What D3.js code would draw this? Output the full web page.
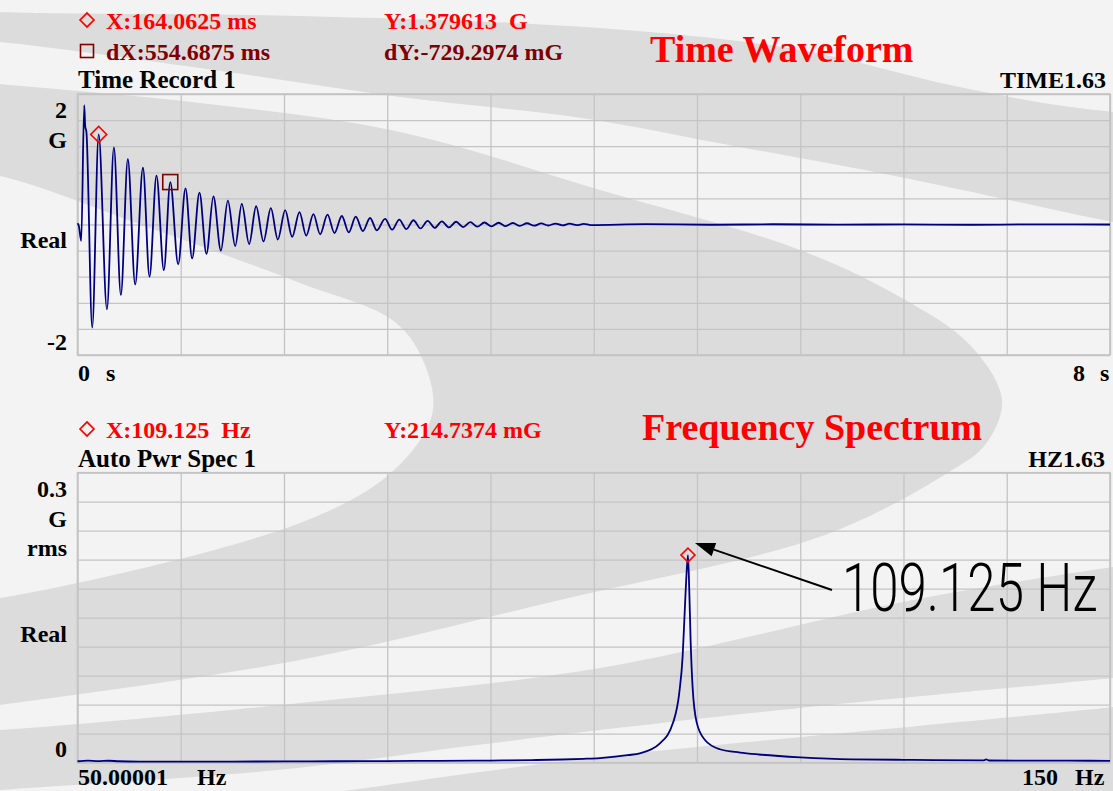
<!DOCTYPE html>
<html>
<head>
<meta charset="utf-8">
<script src="https://cdn.jsdelivr.net/npm/d3@7"></script>
<style>
  html, body { margin: 0; padding: 0; background: #f3f3f3; }
  svg { display: block; }
  text { font-family: "Liberation Serif", "Times New Roman", serif; font-weight: bold; white-space: pre; }
</style>
</head>
<body>
<svg id="chart" width="1113" height="791"></svg>
<script>
// Time record 1: turning points of the ring-down (s, G)
const timeSec = [
  0, 0.010, 0.029, 0.052, 0.060, 0.069, 0.114, 0.164, 0.228, 0.282,
  0.336, 0.390, 0.447, 0.507, 0.558, 0.612, 0.669, 0.719, 0.780, 0.837,
  0.888, 0.945, 0.999, 1.053, 1.111, 1.165, 1.222, 1.273, 1.330, 1.384,
  1.441, 1.498, 1.552, 1.609, 1.663, 1.720, 1.772, 1.828, 1.880, 1.937,
  1.991, 2.048, 2.102, 2.156, 2.211, 2.267, 2.319, 2.383, 2.438, 2.493,
  2.548, 2.603, 2.658, 2.713, 2.768, 2.823, 2.878, 2.933, 2.988, 3.043,
  3.098, 3.153, 3.208, 3.263, 3.318, 3.373, 3.428, 3.483, 3.538, 3.593,
  3.648, 3.703, 3.758, 3.813, 3.868, 3.923, 3.978, 4.4, 4.9, 5.4,
  5.9, 6.4, 6.9, 7.4, 8.0
];
const timeG = [
  0.02, -0.02, -0.25, 1.83, 1.50, 1.42, -1.58, 1.38, -1.30, 1.18,
  -1.08, 1.00, -0.92, 0.87, -0.80, 0.75, -0.70, 0.65, -0.61, 0.555,
  -0.52, 0.49, -0.45, 0.43, -0.40, 0.365, -0.33, 0.315, -0.30, 0.28,
  -0.26, 0.25, -0.23, 0.22, -0.19, 0.19, -0.17, 0.16, -0.15, 0.15,
  -0.13, 0.13, -0.12, 0.12, -0.10, 0.10, -0.09, 0.085, -0.08, 0.075,
  -0.07, 0.065, -0.06, 0.056, -0.052, 0.048, -0.045, 0.042, -0.039, 0.036,
  -0.033, 0.031, -0.029, 0.027, -0.025, 0.023, -0.021, 0.019, -0.018, 0.016,
  -0.015, 0.014, -0.013, 0.012, -0.011, 0.010, -0.009, 0.005, -0.004, 0.004,
  -0.003, 0.003, -0.004, 0.003, 0.0
];

// Auto power spectrum 1 (Hz, G rms)
const specHz = [
  50, 51, 52, 53, 54, 56, 60, 65, 70, 75,
  80, 85, 90, 94, 97, 99, 100.6, 102.1, 103.3, 104.47,
  106.41, 107.70, 108.28, 108.61, 108.83, 108.99, 109.125, 109.25, 109.38, 109.57,
  109.96, 110.77, 112.22, 114.16, 116, 120, 125, 130, 133, 137.8,
  138.0, 138.3, 142, 146, 150
];
const specG = [
  0.0015, 0.0022, 0.0016, 0.0020, 0.0015, 0.0012, 0.0011, 0.0012, 0.0013, 0.0015,
  0.0017, 0.0019, 0.0022, 0.0027, 0.0033, 0.0040, 0.0048, 0.0062, 0.0078, 0.0097,
  0.0200, 0.0420, 0.0720, 0.1100, 0.1610, 0.1960, 0.2147, 0.1790, 0.1270, 0.0790,
  0.0420, 0.0235, 0.0139, 0.0105, 0.0085, 0.0056, 0.0035, 0.0030, 0.0027, 0.0025,
  0.0034, 0.0023, 0.0022, 0.0021, 0.0019
];

// markers
const timeMarker = { t: 0.1640625, g: 1.379613 };
const timeDelta = { dt: 0.5546875, dg: -0.7292974 };
const specMarker = { hz: 109.125, g: 0.2147374 };

// axis text
const timeYLabels = ['2', 'G', 'Real', '-2'];
const specYLabels = ['0.3', 'G', 'rms', 'Real', '0'];
const timeXLabels = ['0', '8'];
const specXLabels = ['50.00001', '150'];

const svg = d3.select('#chart');
const W = 1113, H = 791;

// ---- backdrop swirl ----
const bandColor = '#dcdcdc';
const bands = [
  [[-60,8],[0,12],[300,16],[600,28],[800,50],[950,85],[1050,104],[1113,112],[1170,118],
   [1170,232],[1113,222],[900,177],[718,143],[582,118],[400,97],[200,68],[0,42],[-60,38]],
  [[-60,78],[0,84],[200,103],[400,132],[600,190],[800,250],[900,297],[970,345],[1002,400],
   [985,445],[949,472],[825,535],[560,600],[300,660],[0,705],[-60,712],
   [-60,602],[0,598],[300,523],[392,472],[432,415],[425,365],[395,322],[300,283],[150,228],[0,176],[-60,170]],
  [[-60,732],[0,730],[300,703],[600,668],[913,600],[1113,567],[1170,560],
   [1170,672],[1113,678],[800,708],[600,730],[477,745],[277,770],[0,790],[-60,795]],
  [[-60,840],[277,800],[480,772],[600,757],[1113,707],[1170,700],[1170,860],[-60,860]]
];
const bandLine = d3.line().curve(d3.curveCatmullRomClosed.alpha(0.5));
svg.append('rect').attr('width', W).attr('height', H).attr('fill', '#f3f3f3');
svg.selectAll('path.band').data(bands).enter().append('path')
  .attr('class', 'band')
  .attr('d', d => bandLine(d))
  .attr('fill', bandColor);

const gridColor = '#c4c4c4';

function drawFrame(x, y, xTicks, yTicks) {
  let g = svg.append('g');
  let top = y.range()[1], bottom = y.range()[0];
  let left = x.range()[0], right = x.range()[1];
  g.append('g')
    .attr('transform', 'translate(0,' + bottom + ')')
    .call(d3.axisBottom(x).tickValues(xTicks).tickSize(-(bottom - top)).tickFormat(''))
    .call(a => a.select('.domain').remove());
  g.append('g')
    .attr('transform', 'translate(' + left + ',0)')
    .call(d3.axisLeft(y).tickValues(yTicks).tickSize(-(right - left)).tickFormat(''))
    .call(a => a.select('.domain').remove());
  g.selectAll('line').attr('stroke', gridColor).attr('stroke-width', 1.3);
  g.append('rect')
    .attr('x', left).attr('y', top)
    .attr('width', right - left).attr('height', bottom - top)
    .attr('fill', 'none').attr('stroke', gridColor).attr('stroke-width', 1.6);
}

function label(txt, x, y, opts) {
  opts = opts || {};
  return svg.append('text')
    .attr('x', x).attr('y', y)
    .attr('text-anchor', opts.anchor || 'start')
    .attr('fill', opts.color || '#000')
    .style('font-size', (opts.size || 24) + 'px')
    .text(txt);
}

function diamond(cx, cy, r, color) {
  let s = r * Math.SQRT2;
  svg.append('rect')
    .attr('x', -s / 2).attr('y', -s / 2).attr('width', s).attr('height', s)
    .attr('transform', 'translate(' + cx + ',' + cy + ') rotate(45)')
    .attr('fill', 'none').attr('stroke', color).attr('stroke-width', 1.6);
}

function square(cx, cy, s, color) {
  svg.append('rect')
    .attr('x', cx - s / 2).attr('y', cy - s / 2).attr('width', s).attr('height', s)
    .attr('fill', 'none').attr('stroke', color).attr('stroke-width', 1.6);
}

const red = '#ff0000', darkRed = '#800000', navy = '#00007f';

// ---- time waveform ----
const xT = d3.scaleLinear().domain([0, 8]).range([77.5, 1110]);
const yT = d3.scaleLinear().domain([-2, 2]).range([355, 94]);
drawFrame(xT, yT, d3.range(11).map(i => i * 0.8), d3.range(11).map(i => -2 + i * 0.4));

svg.append('path')
  .datum(timeSec.map((t, i) => [t, timeG[i]]))
  .attr('fill', 'none').attr('stroke', navy).attr('stroke-width', 1.8)
  .attr('stroke-linejoin', 'round')
  .attr('d', d3.line().x(d => xT(d[0])).y(d => yT(d[1])).curve(d3.curveMonotoneX));

diamond(xT(timeMarker.t), yT(timeMarker.g), 8, red);
square(xT(timeMarker.t + timeDelta.dt), yT(timeMarker.g + timeDelta.dg), 15, darkRed);

diamond(87, 20, 7, red);
label('X:164.0625 ms', 106, 29, { color: red });
label('Y:1.379613  G', 384, 29, { color: red });
square(87, 51, 13, darkRed);
label('dX:554.6875 ms', 106, 60, { color: darkRed });
label('dY:-729.2974 mG', 384, 60, { color: darkRed });
label('Time Waveform', 650, 62, { color: red, size: 38 });
label('Time Record 1', 78, 88, { size: 25 });
label('TIME1.63', 1106, 88, { anchor: 'end' });

[118, 148, 248, 350].forEach((yy, i) => label(timeYLabels[i], 67, yy, { anchor: 'end' }));
label(timeXLabels[0], 78, 381);
label('s', 106, 381);
label(timeXLabels[1], 1085, 381, { anchor: 'end' });
label('s', 1100, 381);

// ---- frequency spectrum ----
const xF = d3.scaleLinear().domain([50, 150]).range([77.5, 1110]);
const yF = d3.scaleLinear().domain([0, 0.3]).range([762.7, 472.7]);
drawFrame(xF, yF, d3.range(11).map(i => 50 + i * 10), d3.range(11).map(i => i * 0.03));

svg.append('path')
  .datum(specHz.map((f, i) => [f, specG[i]]))
  .attr('fill', 'none').attr('stroke', navy).attr('stroke-width', 1.8)
  .attr('stroke-linejoin', 'round')
  .attr('d', d3.line().x(d => xF(d[0])).y(d => yF(d[1])).curve(d3.curveMonotoneX));

diamond(xF(specMarker.hz), yF(specMarker.g), 7, red);

diamond(87, 429, 7, red);
label('X:109.125  Hz', 106, 438, { color: red });
label('Y:214.7374 mG', 384, 438, { color: red });
label('Frequency Spectrum', 642, 440, { color: red, size: 38 });
label('Auto Pwr Spec 1', 78, 467, { size: 25 });
label('HZ1.63', 1105, 467, { anchor: 'end' });

[497, 527, 556, 642, 757].forEach((yy, i) => label(specYLabels[i], 67, yy, { anchor: 'end' }));
label(specXLabels[0], 78, 785);
label('Hz', 197, 785);
label(specXLabels[1], 1058, 785, { anchor: 'end' });
label('Hz', 1075, 785);

// callout arrow and big label
let tip = [xF(specMarker.hz) + 7, yF(specMarker.g) - 12];
let tail = [832, 590];
let ang = Math.atan2(tail[1] - tip[1], tail[0] - tip[0]);
let headLen = 20, headW = 7;
let base = [tip[0] + headLen * Math.cos(ang), tip[1] + headLen * Math.sin(ang)];
svg.append('line')
  .attr('x1', tail[0]).attr('y1', tail[1]).attr('x2', base[0]).attr('y2', base[1])
  .attr('stroke', '#000').attr('stroke-width', 2);
svg.append('path')
  .attr('d', 'M' + tip + 'L' + [base[0] - headW * Math.sin(ang), base[1] + headW * Math.cos(ang)] +
    'L' + [base[0] + headW * Math.sin(ang), base[1] - headW * Math.cos(ang)] + 'Z')
  .attr('fill', '#000');

// tall, narrow call-out text: smaller font stretched vertically
svg.append('text')
  .attr('transform', 'translate(842,611) scale(1,1.32)')
  .style('font-family', 'Roboto, "DejaVu Sans", sans-serif')
  .style('font-weight', 300)
  .style('font-size', '51px')
  .attr('fill', '#000')
  .text('109.125 Hz');
</script>
</body>
</html>
